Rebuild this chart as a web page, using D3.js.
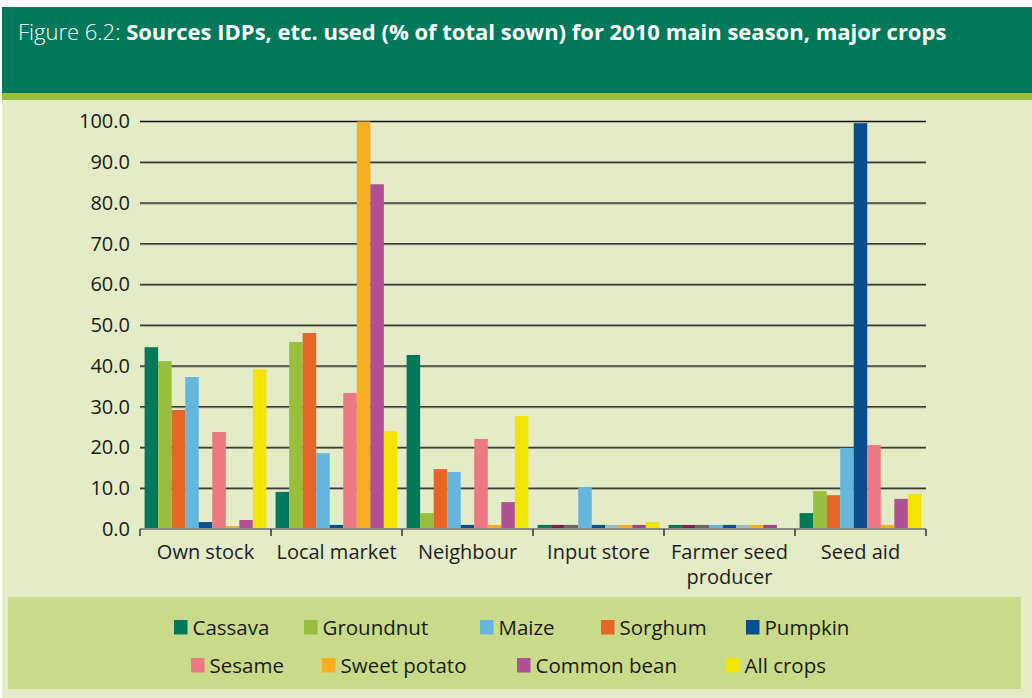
<!DOCTYPE html>
<html>
<head>
<meta charset="utf-8">
<script src="https://cdn.jsdelivr.net/npm/d3@7"></script>
<style>
  html, body { margin: 0; padding: 0; background: #ffffff; }
  svg { display: block; font-family: "Open Sans", "Noto Sans", sans-serif; }
</style>
</head>
<body>
<svg id="chart" width="1032" height="698"></svg>
<script>
// ---- data ----
const categories = ["Own stock", "Local market", "Neighbour", "Input store", "Farmer seed producer", "Seed aid"];
const categoryLines = [["Own stock"], ["Local market"], ["Neighbour"], ["Input store"], ["Farmer seed", "producer"], ["Seed aid"]];

const seriesNames = ["Cassava", "Groundnut", "Sorghum", "Maize", "Pumpkin", "Sesame", "Sweet potato", "Common bean", "All crops"];
const seriesColors = ["#00795a", "#97bf3d", "#e46727", "#65b6dd", "#0b4e8c", "#eb7882", "#f6ad1e", "#b05196", "#f2e500"];

const cassava     = [44.6,   9.1, 42.7,  1.0, 1.0,  3.9];
const groundnut   = [41.2,  45.9,  3.9,  1.0, 1.0,  9.3];
const sorghum     = [29.2,  48.1, 14.7,  1.0, 1.0,  8.3];
const maize       = [37.3,  18.6, 14.0, 10.3, 1.0, 19.9];
const pumpkin     = [ 1.7,   1.0,  1.0,  1.0, 1.0, 99.6];
const sesame      = [23.8,  33.4, 22.1,  1.0, 1.0, 20.6];
const sweetPotato = [ 0.7, 100.0,  1.0,  1.0, 1.0,  1.0];
const commonBean  = [ 2.2,  84.6,  6.6,  1.0, 1.0,  7.4];
const allCrops    = [39.2,  24.0, 27.7,  1.7, 0.0,  8.6];

const seriesValues = [cassava, groundnut, sorghum, maize, pumpkin, sesame, sweetPotato, commonBean, allCrops];

// odd bar colours used in the original for the small "Input store" / "Farmer seed producer" bars
const overrideCategories = ["Input store", "Farmer seed producer"];
const overrideColors = { "Groundnut": "#7a1f4e", "Sorghum": "#666666", "Sesame": "#9bbfb8", "Common bean": "#a0408f" };

const legendRow1 = ["Cassava", "Groundnut", "Maize", "Sorghum", "Pumpkin"];
const legendRow2 = ["Sesame", "Sweet potato", "Common bean", "All crops"];

const yTicks = [0, 10, 20, 30, 40, 50, 60, 70, 80, 90, 100];

// ---- drawing ----
const svg = d3.select("#chart");
const W = 1032, H = 698;

// backgrounds
svg.append("rect").attr("x", 0).attr("y", 0).attr("width", W).attr("height", H).attr("fill", "#ffffff");
svg.append("rect").attr("x", 2).attr("y", 100).attr("width", W - 2).attr("height", H - 100).attr("fill", "#e3ebc7");
svg.append("rect").attr("x", 2).attr("y", 7).attr("width", W - 2).attr("height", 86).attr("fill", "#00785a");
svg.append("rect").attr("x", 2).attr("y", 93).attr("width", W - 2).attr("height", 7).attr("fill", "#97bf3d");

// title
const title = svg.append("text").attr("x", 18).attr("y", 40).attr("fill", "#ffffff").attr("font-size", 22);
title.append("tspan").attr("font-weight", 300).text("Figure 6.2: ");
title.append("tspan").attr("font-weight", 700).text("Sources IDPs, etc. used (% of total sown) for 2010 main season, major crops");

// scales
const plotLeft = 140, plotRight = 926, y0 = 529, y100 = 121.5;
const x0 = d3.scaleBand().domain(categories).range([plotLeft, plotRight]).paddingInner(0).paddingOuter(0);
const x1 = d3.scaleBand().domain(seriesNames).range([0, x0.bandwidth()]).paddingInner(0).paddingOuter(0.34);
const y = d3.scaleLinear().domain([0, 100]).range([y0, y100]);

// gridlines
const grid = svg.append("g");
yTicks.filter(t => t > 0).forEach(t => {
  if (t === 100) {
    grid.append("line").attr("x1", plotLeft).attr("x2", plotRight).attr("y1", y(t)).attr("y2", y(t))
      .attr("stroke", "#111111").attr("stroke-width", 1.3);
  } else {
    grid.append("line").attr("x1", plotLeft).attr("x2", plotRight).attr("y1", y(t) + 1).attr("y2", y(t) + 1)
      .attr("stroke", "#9a9e86").attr("stroke-width", 1.2);
    grid.append("line").attr("x1", plotLeft).attr("x2", plotRight).attr("y1", y(t)).attr("y2", y(t))
      .attr("stroke", "#3c3c38").attr("stroke-width", 1.4);
  }
});

// y axis labels
const yAxis = d3.axisLeft(y).tickValues(yTicks).tickFormat(d3.format(".1f")).tickSize(0).tickPadding(10);
const yg = svg.append("g").attr("transform", `translate(${plotLeft},0)`).call(yAxis);
yg.select(".domain").remove();
yg.selectAll("text").attr("font-size", 20).attr("fill", "#1a1a1a").attr("font-family", "\"Open Sans\", sans-serif");

// bars
const flat = [];
categories.forEach((c, ci) => {
  seriesNames.forEach((s, si) => {
    flat.push({ cat: c, series: s, value: seriesValues[si][ci], si });
  });
});
svg.append("g").selectAll("rect").data(flat.filter(d => d.value > 0)).join("rect")
  .attr("x", d => x0(d.cat) + x1(d.series))
  .attr("width", x1.bandwidth())
  .attr("y", d => y(d.value))
  .attr("height", d => y(0) - y(d.value))
  .attr("fill", d => (overrideCategories.includes(d.cat) && overrideColors[d.series]) ? overrideColors[d.series] : seriesColors[d.si]);

// x axis
const xg = svg.append("g");
xg.append("line").attr("x1", plotLeft).attr("x2", plotRight).attr("y1", y0).attr("y2", y0)
  .attr("stroke", "#8a8a80").attr("stroke-width", 2);
const boundaries = categories.map(c => x0(c)).concat([plotRight]);
xg.selectAll("line.tick").data(boundaries).join("line").attr("class", "tick")
  .attr("x1", d => d).attr("x2", d => d).attr("y1", y0).attr("y2", y0 + 7)
  .attr("stroke", "#333333").attr("stroke-width", 1.5);
categories.forEach((c, ci) => {
  const t = xg.append("text").attr("x", x0(c) + x0.bandwidth() / 2).attr("y", 559)
    .attr("text-anchor", "middle").attr("font-size", 20).attr("fill", "#1e1e1e");
  categoryLines[ci].forEach((ln, li) => {
    t.append("tspan").attr("x", x0(c) + x0.bandwidth() / 2).attr("dy", li === 0 ? 0 : 25).text(ln);
  });
});

// legend
svg.append("rect").attr("x", 8).attr("y", 597).attr("width", 1013).attr("height", 92).attr("fill", "#c9da8a");
const legendPos1 = [174, 304, 480, 601, 746];
const legendPos2 = [191, 322, 517, 726];
function drawLegendRow(names, xs, top) {
  names.forEach((n, i) => {
    const si = seriesNames.indexOf(n);
    svg.append("rect").attr("x", xs[i]).attr("y", top).attr("width", 13.5).attr("height", 14.5).attr("fill", seriesColors[si]);
    svg.append("text").attr("x", xs[i] + 18.5).attr("y", top + 15).attr("font-size", 20.5).attr("fill", "#1a1a1a").text(n);
  });
}
drawLegendRow(legendRow1, legendPos1, 620);
drawLegendRow(legendRow2, legendPos2, 658);
</script>
</body>
</html>
